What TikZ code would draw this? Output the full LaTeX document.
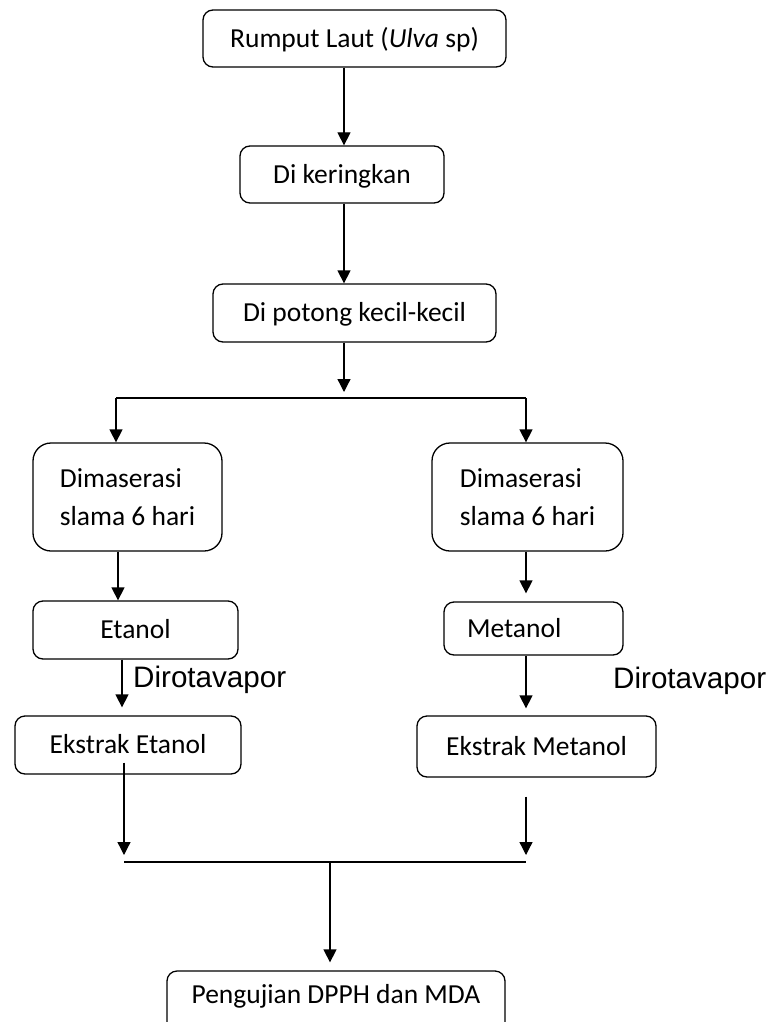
\documentclass[tikz,border=0pt]{standalone}
\usepackage{fontspec}
\setmainfont{Carlito}
\newfontfamily\arialf{Liberation Sans}
\usetikzlibrary{arrows.meta,calc}
\begin{document}
\begin{tikzpicture}[x=1pt,y=-1pt,
  box/.style={draw,line width=1.3pt,rounded corners=10pt,inner sep=0pt,align=center,
    font=\fontsize{27.5}{38}\selectfont},
  one/.style={text height=17.7pt,text depth=0pt},
  arr/.style={line width=1.3pt,-{Triangle[length=13pt,width=13pt]}},
  ln/.style={line width=1.3pt},
  lbl/.style={inner sep=0pt,anchor=base west,font=\arialf\fontsize{29.6}{34}\selectfont}]
\clip (0,0) rectangle (776,1022);
\fill[white] (0,0) rectangle (776,1022);
% boxes
\node[box,one,minimum width=303pt,minimum height=57pt] (b1) at (354.5,38.5) {Rumput Laut (\textit{Ulva} sp)};
\node[box,one,minimum width=204pt,minimum height=57pt] (b2) at (342,174.5) {Di keringkan};
\node[box,one,minimum width=283pt,minimum height=58pt] (b3) at (354.5,313) {Di potong kecil-kecil};
\node[box,rounded corners=18pt,align=left,minimum width=189pt,minimum height=108pt] (mL) at (127.5,497) {Dimaserasi\\slama 6 hari};
\node[box,rounded corners=18pt,align=left,minimum width=191pt,minimum height=108pt] (mR) at (527.5,497) {Dimaserasi\\slama 6 hari};
\node[box,one,minimum width=205pt,minimum height=58pt] (et) at (135.5,630) {Etanol};
\node[box,one,text width=133pt,align=left,minimum width=179pt,minimum height=53pt] (me) at (533.5,628.5) {Metanol};
\node[box,one,minimum width=226pt,minimum height=58pt] (ee) at (128,745) {Ekstrak Etanol};
\node[box,one,minimum width=239pt,minimum height=61pt] (em) at (536.5,746.5) {Ekstrak Metanol};
\node[box,anchor=base,text height=32pt,text depth=45pt,minimum width=338pt] (fin) at (336,1003) {Pengujian DPPH dan MDA};
% labels
\node[lbl] (d1) at (133,687) {Dirotavapor};
\node[lbl] (d2) at (613,688) {Dirotavapor};
% coordinates
\coordinate (c1) at (344,0);
\coordinate (sp) at (344,398);
\coordinate (sl) at (116,398);
\coordinate (sr) at (526,398);
\coordinate (a1) at (118,0);
\coordinate (a2) at (122,0);
\coordinate (jl) at (124,862);
\coordinate (jr) at (526,862);
\coordinate (jm) at (330,862);
% connectors
\draw[arr] (c1 |- b1.south) -- (c1 |- b2.north);
\draw[arr] (c1 |- b2.south) -- (c1 |- b3.north);
\draw[arr] (sp |- b3.south) -- ($(sp)+(0,-6)$);
\draw[ln] (sl) -- (sr);
\draw[arr] (sl) -- (sl |- mL.north);
\draw[arr] (sr) -- (sr |- mR.north);
\draw[arr] (a1 |- mL.south) -- (a1 |- et.north);
\draw[arr,shorten >=8pt] (a2 |- et.south) -- (a2 |- ee.north);
\draw[arr,shorten >=8pt] (sr |- mR.south) -- (sr |- me.north);
\draw[arr,shorten >=7pt] (sr |- me.south) -- (sr |- em.north);
\draw[arr] ($(jl |- ee.south)+(0,-12)$) -- ($(jl)+(0,-7)$);
\draw[arr] ($(jr |- em.south)+(0,19)$) -- ($(jr)+(0,-7)$);
\draw[ln] (jl) -- (jr);
\draw[arr,shorten >=8pt] (jm) -- (jm |- fin.north);
\end{tikzpicture}
\end{document}
